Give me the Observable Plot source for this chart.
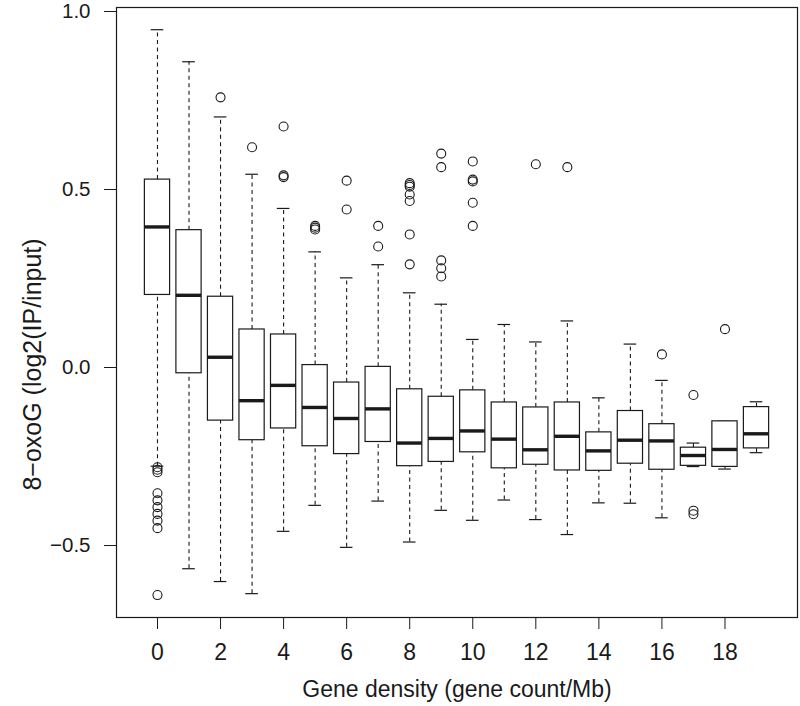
<!DOCTYPE html>
<html><head><meta charset="utf-8">
<script src="https://cdn.jsdelivr.net/npm/d3@7"></script>
<script src="https://cdn.jsdelivr.net/npm/@observablehq/plot@0.6"></script>
<style>body{margin:0;background:#fff}</style>
</head><body><div id="chart"></div>
<script>
const density = [0,1,2,3,4,5,6,7,8,9,10,11,12,13,14,15,16,17,18,19];
const whiskerLow = [-0.280,-0.568,-0.604,-0.638,-0.463,-0.390,-0.508,-0.378,-0.493,-0.404,-0.432,-0.375,-0.430,-0.472,-0.383,-0.384,-0.425,-0.281,-0.288,-0.242];
const q1 =         [0.201,-0.019,-0.152,-0.207,-0.174,-0.224,-0.246,-0.212,-0.280,-0.268,-0.241,-0.286,-0.276,-0.292,-0.293,-0.273,-0.290,-0.279,-0.282,-0.230];
const median =     [0.392,0.200,0.026,-0.096,-0.053,-0.115,-0.146,-0.119,-0.215,-0.202,-0.181,-0.204,-0.234,-0.196,-0.237,-0.207,-0.209,-0.250,-0.233,-0.189];
const q3 =         [0.525,0.383,0.196,0.104,0.090,0.004,-0.045,-0.001,-0.064,-0.085,-0.067,-0.101,-0.115,-0.101,-0.185,-0.125,-0.162,-0.228,-0.154,-0.114];
const whiskerHigh =[0.946,0.856,0.701,0.540,0.444,0.322,0.249,0.286,0.207,0.175,0.076,0.118,0.069,0.128,-0.088,0.063,-0.039,-0.215,-0.154,-0.099];

const outlierDensity = [0,0,0,0,0,0,0,0,0,0, 2, 3, 4,4,4, 5,5,5, 6,6, 7,7, 8,8,8,8,8,8,8, 9,9,9,9,9, 10,10,10,10,10, 12, 13, 16, 17,17,17, 18];
const outlierValue = [-0.283,-0.290,-0.297,-0.356,-0.376,-0.395,-0.414,-0.433,-0.454,-0.642,
  0.756, 0.616, 0.674,0.537,0.532, 0.395,0.390,0.385, 0.522,0.441, 0.395,0.337,
  0.515,0.510,0.505,0.483,0.465,0.371,0.287, 0.598,0.560,0.298,0.276,0.253,
  0.576,0.525,0.520,0.460,0.395, 0.568, 0.560, 0.034, -0.080,-0.405,-0.415, 0.105];

const xTicks = [0,2,4,6,8,10,12,14,16,18];
const yTicks = [-0.5,0,0.5,1.0];
const xTitle = "Gene density (gene count/Mb)";
const yTitle = "8\u2212oxoG (log2(IP/input)";

const boxes = density.map((d,i)=>({d, lo:whiskerLow[i], q1:q1[i], med:median[i], q3:q3[i], hi:whiskerHigh[i]}));
const outliers = outlierDensity.map((d,i)=>({d, v:outlierValue[i]}));
const ink = "#1a1a1a";

const chart = Plot.plot({
  width: 800, height: 706,
  marginLeft: 116, marginRight: 3, marginTop: 7, marginBottom: 89,
  style: {fontFamily: "'Liberation Sans', Arial, sans-serif", fontSize: "21px", color: ink, background: "#fff", overflow: "visible"},
  x: {type: "linear", domain: [-1.3, 20.3], label: null},
  y: {domain: [-0.705, 1.0084], label: null},
  marks: [
    Plot.ruleX(boxes, {x: "d", y1: "q3", y2: "hi", stroke: ink, strokeWidth: 1.1, strokeDasharray: "4,3.5"}),
    Plot.ruleX(boxes, {x: "d", y1: "lo", y2: "q1", stroke: ink, strokeWidth: 1.1, strokeDasharray: "4,3.5"}),
    Plot.ruleY(boxes, {y: "hi", x1: b => b.d - 0.2, x2: b => b.d + 0.2, stroke: ink, strokeWidth: 1.2}),
    Plot.ruleY(boxes, {y: "lo", x1: b => b.d - 0.2, x2: b => b.d + 0.2, stroke: ink, strokeWidth: 1.2}),
    Plot.rect(boxes, {x1: b => b.d - 0.4, x2: b => b.d + 0.4, y1: "q1", y2: "q3", fill: "white", stroke: ink, strokeWidth: 1.2}),
    Plot.ruleY(boxes, {y: "med", x1: b => b.d - 0.4, x2: b => b.d + 0.4, stroke: ink, strokeWidth: 3.4}),
    Plot.dot(outliers, {x: "d", y: "v", r: 4.5, stroke: ink, fill: "none", strokeWidth: 1.1}),
    Plot.frame({stroke: ink, strokeWidth: 1.2}),
    Plot.axisX({ticks: xTicks, tickSize: 12, tickPadding: 14, tickFormat: d => String(d), label: null, stroke: ink, fontSize: 23}),
    Plot.axisY({ticks: yTicks, tickSize: 12, tickPadding: 14, tickFormat: d3.format(".1f"), label: null, stroke: ink, fontSize: 20.5, dy: 1}),
    Plot.text([xTitle], {frameAnchor: "bottom", dy: 79, fontSize: 23, fill: ink}),
    Plot.text([yTitle], {frameAnchor: "left", textAnchor: "middle", dx: -84, dy: 52, rotate: -90, fontSize: 25, fill: ink})
  ]
});
document.getElementById("chart").appendChild(chart);
</script>
</body></html>
